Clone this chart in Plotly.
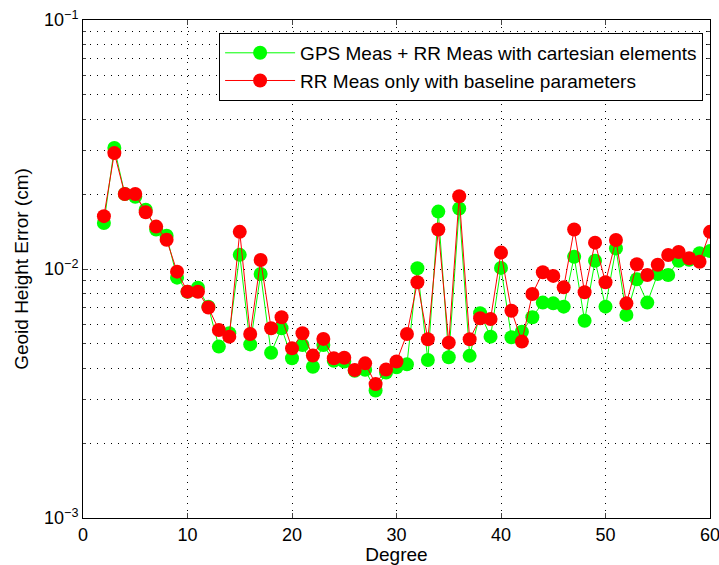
import plotly.graph_objects as go

degree = list(range(2, 61))

gps_rr = [0.0153, 0.0306, 0.0200, 0.0195, 0.0173, 0.0144, 0.0136, 0.00923, 0.0081, 0.00841,
          0.00705, 0.00488, 0.00552, 0.0114, 0.00498, 0.00955, 0.00461, 0.00578, 0.00438, 0.00495,
          0.00405, 0.00495, 0.00428, 0.00425, 0.0039, 0.00394, 0.00325, 0.00384, 0.00403, 0.00414,
          0.01007, 0.00431, 0.0170, 0.00442, 0.0175, 0.00448, 0.00664, 0.00535, 0.0101, 0.00532,
          0.0056, 0.0064, 0.00733, 0.00728, 0.00706, 0.0112, 0.0062, 0.0108, 0.00706, 0.0121,
          0.00654, 0.0091, 0.00733, 0.00955, 0.00946, 0.0108, 0.0109, 0.01156, 0.0118]

rr_only = [0.0163, 0.0292, 0.0200, 0.0200, 0.0169, 0.0148, 0.0131, 0.00976, 0.00811, 0.0081,
           0.0070, 0.00569, 0.00535, 0.0141, 0.00548, 0.01087, 0.00578, 0.0064, 0.0048, 0.00552,
           0.00449, 0.00524, 0.00438, 0.0044, 0.00393, 0.00418, 0.00345, 0.00395, 0.00425, 0.00548,
           0.00885, 0.00522, 0.0144, 0.00506, 0.0196, 0.00522, 0.00634, 0.0063, 0.01164, 0.0068,
           0.00511, 0.00794, 0.0097, 0.00938, 0.00844, 0.0144, 0.00806, 0.01276, 0.00885, 0.01307,
           0.00728, 0.01045, 0.00946, 0.0104, 0.01138, 0.0117, 0.01104, 0.0107, 0.0141]

y_major = [0.001, 0.01, 0.1]
y_major_text = ["10<sup>−3</sup>", "10<sup>−2</sup>", "10<sup>−1</sup>"]
y_minor = [m * 10 ** e for e in (-3, -2) for m in range(2, 10)]
x_ticks = [0, 10, 20, 30, 40, 50, 60]

font = "Liberation Sans, Arial, sans-serif"

fig = go.Figure()
fig.add_trace(go.Scatter(x=degree, y=gps_rr, mode="lines+markers",
                         name="GPS Meas + RR Meas with cartesian elements",
                         line=dict(color="#00FF00", width=1),
                         marker=dict(color="#00FF00", size=14)))
fig.add_trace(go.Scatter(x=degree, y=rr_only, mode="lines+markers",
                         name="RR Meas only with baseline parameters",
                         line=dict(color="#FF0000", width=1),
                         marker=dict(color="#FF0000", size=14)))

fig.update_layout(
    width=719, height=565,
    margin=dict(l=83, r=9, t=20, b=47),
    paper_bgcolor="white", plot_bgcolor="white",
    font=dict(family=font, size=18, color="black"),
    legend=dict(x=0.989, y=0.974, xanchor="right", yanchor="top",
                bgcolor="white", bordercolor="black", borderwidth=1,
                font=dict(size=19), tracegroupgap=0, itemwidth=70),
    showlegend=True,
)
fig.update_xaxes(range=[0, 60], tickvals=x_ticks, ticks="inside", ticklen=5,
                 automargin=False, tickfont=dict(size=18), ticklabeloverflow="allow",
                 showline=True, linecolor="black", linewidth=1, mirror="ticks",
                 showgrid=True, gridcolor="black", griddash="1px,6px", gridwidth=1,
                 zeroline=False,
                 title=dict(text="Degree", font=dict(size=19), standoff=0))
fig.update_yaxes(type="log", range=[-3, -1], tickvals=y_major, ticktext=y_major_text,
                 ticks="inside", ticklen=5, automargin=False, tickfont=dict(size=18),
                 ticklabeloverflow="allow",
                 showline=True, linecolor="black", linewidth=1, mirror="ticks",
                 showgrid=True, gridcolor="black", griddash="1px,6px", gridwidth=1,
                 minor=dict(tickvals=y_minor, showgrid=True, gridcolor="black",
                            griddash="1px,6px", gridwidth=1, ticks="inside", ticklen=3),
                 zeroline=False,
                 title=dict(text="Geoid Height Error (cm)", font=dict(size=19), standoff=10))

fig.write_html("out.html")
